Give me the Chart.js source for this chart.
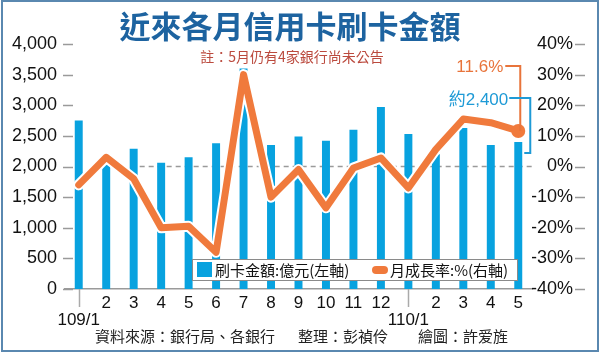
<!DOCTYPE html>
<html>
<head>
<meta charset="utf-8">
<script src="https://cdn.jsdelivr.net/npm/chart.js@4"></script>
<style>
  html, body { margin: 0; padding: 0; background: #fff; }
  #wrap { width: 600px; height: 353px; }
</style>
</head>
<body>
<div id="wrap"><canvas id="c" width="600" height="353"></canvas></div>
<script>
const months = ['109/1', '2', '3', '4', '5', '6', '7', '8', '9', '10', '11', '12', '110/1', '2', '3', '4', '5'];
const amounts = [2750, 2030, 2290, 2060, 2150, 2380, 3600, 2350, 2490, 2420, 2600, 2970, 2530, 2200, 2630, 2350, 2400];
const growth = [-6, 3, -4, -20, -19.5, -28, 30, -10, -1, -13.5, -0.5, 2.8, -7, 5.6, 15.5, 14.3, 11.6];
const seriesNames = ['刷卡金額:億元(左軸)', '月成長率:%(右軸)'];
const titleText = '近來各月信用卡刷卡金額';
const noteText = '註：5月仍有4家銀行尚未公告';
const calloutText = ['11.6%', '約2,400'];
const footerText = ['資料來源：銀行局、各銀行', '整理：彭禎伶', '繪圖：許爱旌'];

const BLUE = '#08a2df';
const ORANGE = '#f07a3c';
const NUM_FONT = '"Liberation Sans", Arial, sans-serif';
const CJK_FONT = '"Noto Sans CJK TC", "Noto Sans", sans-serif';

function line(ctx, pts) {
  ctx.beginPath();
  ctx.moveTo(pts[0][0], pts[0][1]);
  for (let i = 1; i < pts.length; i++) ctx.lineTo(pts[i][0], pts[i][1]);
  ctx.stroke();
}

const deco = {
  id: 'deco',
  beforeDatasetsDraw(chart) {
    const { ctx, chartArea: a, scales: { x, y1 } } = chart;
    const y0 = y1.getPixelForValue(0);
    ctx.save();
    ctx.strokeStyle = '#9a9a9a';
    ctx.lineWidth = 1.5;
    ctx.setLineDash([5, 4]);
    line(ctx, [[x.getPixelForValue(2) + 6, y0], [a.right, y0]]);
    ctx.restore();
  },
  afterDraw(chart) {
    const { ctx, chartArea: a, scales: { x, y, y1 } } = chart;
    ctx.save();

    // axis tick marks
    ctx.strokeStyle = '#9a9a9a';
    ctx.lineWidth = 1.5;
    y.ticks.forEach(t => {
      const py = Math.round(y.getPixelForValue(t.value)) + 0.5;
      line(ctx, [[a.left - 2, py], [a.left + 8, py]]);
    });
    y1.ticks.forEach(t => {
      const py = Math.round(y1.getPixelForValue(t.value)) + 0.5;
      line(ctx, [[y1.right + 2, py], [y1.right + 12, py]]);
    });
    ctx.strokeStyle = '#aaa';
    months.forEach((m, i) => {
      if (m.indexOf('/') < 0) return;
      const px = Math.round(x.getPixelForValue(i)) + 0.5;
      line(ctx, [[px, a.bottom], [px, a.bottom + 18]]);
    });

    // title and note
    ctx.textAlign = 'center';
    ctx.textBaseline = 'middle';
    ctx.fillStyle = '#1d63a0';
    ctx.font = 'bold 31px ' + CJK_FONT;
    ctx.fillText(titleText, 290, 26);
    ctx.fillStyle = '#bb4a3e';
    ctx.font = '14px ' + CJK_FONT;
    ctx.fillText(noteText, 292, 57);

    // legend box
    ctx.fillStyle = '#fff';
    ctx.fillRect(192, 259, 325, 21);
    ctx.strokeStyle = '#8a8a8a';
    ctx.lineWidth = 1;
    ctx.strokeRect(192.5, 259.5, 325, 21);
    ctx.fillStyle = BLUE;
    ctx.fillRect(197, 262, 15, 15);
    ctx.strokeStyle = ORANGE;
    ctx.lineWidth = 8;
    ctx.lineCap = 'round';
    line(ctx, [[376, 270], [384, 270]]);
    ctx.lineCap = 'butt';
    ctx.fillStyle = '#111';
    ctx.textAlign = 'left';
    ctx.font = '15px ' + CJK_FONT;
    ctx.fillText(seriesNames[0], 215, 270);
    ctx.fillText(seriesNames[1], 390, 270);

    // callouts for the last month
    const li = months.length - 1;
    const px = x.getPixelForValue(li);
    const dotY = y1.getPixelForValue(growth[li]);
    const barY = y.getPixelForValue(amounts[li]);
    ctx.textAlign = 'right';
    ctx.font = '17px ' + NUM_FONT + ', ' + CJK_FONT;
    ctx.fillStyle = '#e8743b';
    ctx.fillText(calloutText[0], px - 15, 67);
    ctx.strokeStyle = '#e8743b';
    ctx.lineWidth = 2;
    line(ctx, [[px - 13, 66], [px + 2, 66], [px + 2, dotY]]);
    ctx.fillStyle = '#1e9ad6';
    ctx.fillText(calloutText[1], px - 10, 100);
    ctx.strokeStyle = '#1e9ad6';
    line(ctx, [[px - 9, 98], [px + 12, 98], [px + 12, barY + 11], [px + 6, barY + 11]]);

    // footer
    ctx.textAlign = 'left';
    ctx.fillStyle = '#222';
    ctx.font = '15px ' + CJK_FONT;
    ctx.fillText(footerText[0], 95, 336);
    ctx.fillText(footerText[1], 298, 336);
    ctx.fillText(footerText[2], 418, 336);

    // frame
    ctx.strokeStyle = '#5a88b0';
    ctx.lineWidth = 2;
    ctx.strokeRect(2, 1, 596, 350);
    ctx.restore();
  }
};

const lastIdx = growth.length - 1;

new Chart(document.getElementById('c'), {
  data: {
    labels: months,
    datasets: [
      {
        type: 'line',
        label: seriesNames[1],
        data: growth,
        yAxisID: 'y1',
        borderColor: ORANGE,
        borderWidth: 7,
        borderJoinStyle: 'round',
        borderCapStyle: 'round',
        pointRadius: c => c.dataIndex === lastIdx ? 7 : 0,
        pointBackgroundColor: ORANGE,
        pointBorderWidth: 0,
        tension: 0,
        order: 1
      },
      {
        type: 'line',
        label: 'halo',
        data: growth,
        yAxisID: 'y1',
        borderColor: '#fff',
        borderWidth: 11,
        borderJoinStyle: 'round',
        borderCapStyle: 'round',
        pointRadius: c => c.dataIndex === lastIdx ? 9 : 0,
        pointBackgroundColor: '#fff',
        pointBorderWidth: 0,
        tension: 0,
        order: 2
      },
      {
        type: 'bar',
        label: seriesNames[0],
        data: amounts,
        yAxisID: 'y',
        backgroundColor: BLUE,
        barPercentage: 0.29,
        categoryPercentage: 1,
        order: 3
      }
    ]
  },
  options: {
    responsive: false,
    animation: false,
    events: [],
    layout: { padding: { top: 44, left: 0, right: 27, bottom: 0 } },
    plugins: { legend: { display: false }, tooltip: { enabled: false } },
    scales: {
      x: {
        type: 'category',
        offset: true,
        grid: { display: false, drawTicks: false },
        border: { display: true, color: '#9a9a9a', width: 1.5 },
        ticks: {
          autoSkip: false,
          maxRotation: 0,
          padding: 6,
          color: '#111',
          font: { family: NUM_FONT, size: 17, lineHeight: 1 },
          callback: (v, i) => months[i].indexOf('/') >= 0 ? ['', months[i]] : months[i]
        },
        afterFit: s => { s.height = 64; }
      },
      y: {
        position: 'left',
        min: 0,
        max: 4000,
        grid: { display: false, drawTicks: false },
        border: { display: false },
        ticks: {
          stepSize: 500,
          padding: 8,
          color: '#111',
          font: { family: NUM_FONT, size: 18 },
          callback: v => v.toLocaleString('en-US')
        },
        afterFit: s => { s.width = 65; }
      },
      y1: {
        position: 'right',
        min: -40,
        max: 40,
        grid: { display: false, drawTicks: false },
        border: { display: false },
        ticks: {
          stepSize: 10,
          padding: 0,
          crossAlign: 'far',
          color: '#111',
          font: { family: NUM_FONT, size: 18 },
          callback: v => v + '%'
        },
        afterFit: s => { s.width = 41; }
      }
    }
  },
  plugins: [deco]
});
</script>
</body>
</html>
